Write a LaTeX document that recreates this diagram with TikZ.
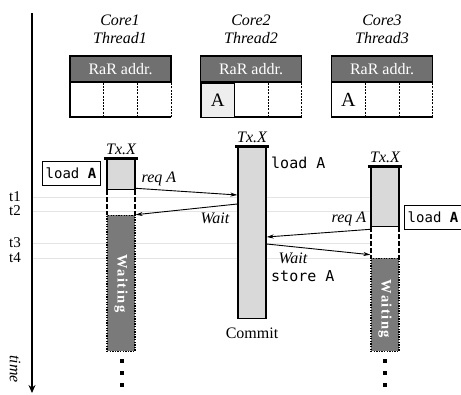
\documentclass[tikz,border=0pt]{standalone}
\usepackage{fontspec}
\setmainfont{Liberation Serif}
\setmonofont{DejaVu Sans Mono}
\usetikzlibrary{arrows.meta,calc}
\definecolor{barfill}{HTML}{D9D9D9}
\definecolor{waitfill}{HTML}{7A7A7A}
\definecolor{hdrfill}{HTML}{707070}
\definecolor{gridc}{HTML}{E4E4E4}
\definecolor{afill}{HTML}{EEEEEE}
\begin{document}
\begin{tikzpicture}[x=1pt,y=-1pt,
  lbl/.style={font=\fontsize{16}{18}\selectfont\itshape, inner sep=0},
  hdr/.style={draw, line width=1.6pt, fill=hdrfill, text=white, minimum width=101pt, minimum height=26pt, inner sep=0, font=\fontsize{16}{18}\selectfont},
  body/.style={minimum width=101pt, minimum height=34pt, inner sep=0},
  tbl/.style={line width=1.6pt},
  divl/.style={line width=0.8pt, dash pattern=on 2pt off 1.2pt},
  bar/.style={draw, line width=1.3pt, fill=barfill, minimum width=28pt, inner sep=0, anchor=north},
  gap/.style={minimum width=28pt, inner sep=0, anchor=north},
  waitbox/.style={draw, line width=1.3pt, dash pattern=on 1.3pt off 1.3pt, fill=waitfill, minimum width=28pt, inner sep=0, anchor=north},
  gapl/.style={line width=1.6pt, dash pattern=on 4.5pt off 2.5pt},
  capl/.style={line width=3pt},
  msg/.style={line width=0.9pt, -{Stealth[length=7pt,width=4pt]}},
  ld/.style={draw, line width=1pt, minimum width=58pt, minimum height=24pt, inner sep=0, font=\fontsize{14}{15}\selectfont\ttfamily},
  mono/.style={font=\fontsize{15}{16}\selectfont\ttfamily, inner sep=0, anchor=west},
  wtext/.style={rotate=-90, text=white, font=\fontsize{14.5}{15}\selectfont\bfseries\addfontfeature{LetterSpace=10}, inner sep=0},
  dotn/.style={fill, minimum size=3.5pt, inner sep=0},
  tick/.style={font=\fontsize{15}{16}\selectfont, inner sep=0},
  gridl/.style={gridc, line width=0.6pt}]
\useasboundingbox (0,0) rectangle (461,394);

% time labels and grid lines
\node[tick] (t1) at (15,197) {t1};
\node[tick] (t2) at (15,211) {t2};
\node[tick] (t3) at (15,243) {t3};
\node[tick] (t4) at (15,258) {t4};
\coordinate (gend) at (371,0);
\foreach \t in {t1,t2,t3,t4}{
  \draw[gridl] (32,0 |- \t) -- (gend |- \t);
}

% time axis
\coordinate (ax0) at (32,13);
\coordinate (ax1) at (32,393);
\draw[line width=2pt, -{Stealth[length=8pt,width=7pt]}] (ax0) -- (ax1);
\node[lbl, rotate=-90] (time) at (15,369) {time};

% core labels
\node[lbl, align=center] (core1) at (120,29) {Core1\\Thread1};
\node[lbl, align=center] (core2) at (251,29) {Core2\\Thread2};
\node[lbl, align=center] (core3) at (382,29) {Core3\\Thread3};

% tables
\foreach \i/\x in {1/120.5, 2/251, 3/382}{
  \node[hdr] (h\i) at (\x,69) {RaR addr.};
  \node[body, anchor=north] (b\i) at (h\i.south) {};
  \draw[tbl] (b\i.north west) -- (b\i.south west) -- (b\i.south east);
  \draw[divl] (b\i.south east) -- (b\i.north east);
  \draw[divl] ($(b\i.north west)!1/3!(b\i.north east)$) -- ($(b\i.south west)!1/3!(b\i.south east)$);
  \draw[divl] ($(b\i.north west)!2/3!(b\i.north east)$) -- ($(b\i.south west)!2/3!(b\i.south east)$);
}
\node[draw, line width=1.4pt, fill=afill, minimum width=33.7pt, minimum height=34pt, inner sep=0, anchor=north west, font=\fontsize{19}{20}\selectfont] (a2) at (b2.north west) {A};
\node[minimum width=33.7pt, minimum height=34pt, inner sep=0, anchor=north west, font=\fontsize{20}{20}\selectfont] (a3) at (b3.north west) {A};

% column 1
\node[bar, minimum height=31pt] (g1) at (121,158) {};
\node[gap, minimum height=24pt] (d1) at (g1.south) {};
\node[waitbox, minimum height=136pt] (w1) at (d1.south) {};
\draw[gapl] (d1.north west) -- (d1.south west);
\draw[gapl] (d1.north east) -- (d1.south east);
\draw[capl] ([xshift=-2.5pt]g1.north west) -- ([xshift=2.5pt]g1.north east);
\node[lbl, anchor=south] (tx1) at ([yshift=3pt]g1.north) {Tx.X};
\node[wtext] (wt1) at (w1.center) {Waiting};
\node[ld] (ld1) at (71,173) {load \textbf{A}};

% column 2
\node[bar, minimum height=172pt] (g2) at (252,146) {};
\draw[capl] ([xshift=-2.5pt]g2.north west) -- ([xshift=2.5pt]g2.north east);
\node[lbl, anchor=south] (tx2) at ([yshift=3pt]g2.north) {Tx.X};
\node[mono] (ld2) at (271,163) {load A};
\node[mono] (st2) at (271,276) {store A};
\node[font=\fontsize{16}{18}\selectfont, inner sep=0] (commit) at (252,333) {Commit};

% column 3
\node[bar, minimum height=60pt] (g3) at (385,166) {};
\node[gap, minimum height=30pt] (d3) at (g3.south) {};
\node[waitbox, minimum height=93pt] (w3) at (d3.south) {};
\draw[gapl] (d3.north west) -- (d3.south west);
\draw[gapl] (d3.north east) -- (d3.south east);
\draw[capl] ([xshift=-2.5pt]g3.north west) -- ([xshift=2.5pt]g3.north east);
\node[lbl, anchor=south] (tx3) at ([yshift=3pt]g3.north) {Tx.X};
\node[wtext] (wt3) at ([yshift=-4pt]w3.center) {Waiting};
\node[ld, minimum width=57pt] (ld3) at (433,217) {load \textbf{A}};

% dots
\foreach \j/\y in {1/361, 2/373, 3/385}{
  \node[dotn] (p1\j) at (122,\y) {};
  \node[dotn] (p3\j) at (385,\y) {};
}

% messages
\draw[msg] ([yshift=2pt]g1.south east) -- ($(g2.north west)+(0,49)$);
\node[lbl] (rq1) at (159,179) {req A};
\draw[msg] ($(g2.north west)+(0,58)$) -- (w1.north east);
\node[lbl] (wa1) at (215,218) {Wait};
\draw[msg] ([yshift=-2pt]g3.south west) -- ($(g2.north east)+(0,91)$);
\node[lbl] (rq3) at (349,219) {req A};
\draw[msg] ($(g2.north east)+(0,98)$) -- ([yshift=3pt]w3.north west);
\node[lbl] (wa3) at (293,258) {Wait};
\end{tikzpicture}
\end{document}
